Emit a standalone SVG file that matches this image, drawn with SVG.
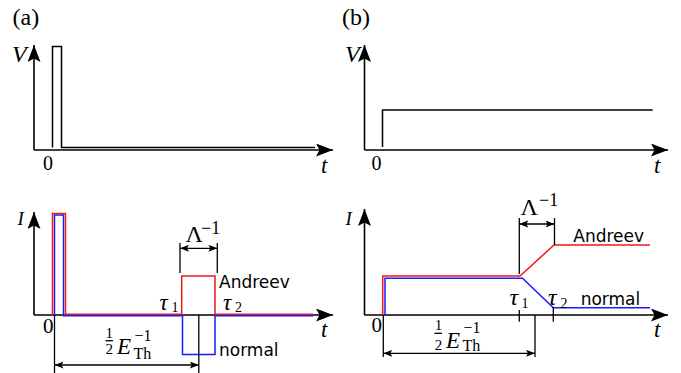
<svg xmlns="http://www.w3.org/2000/svg" width="681" height="373" viewBox="0 0 681 373">
<style>
.ax{fill:none;stroke:#000;stroke-width:1.6}
.tr{fill:none;stroke:#000;stroke-width:1.5}
.br{fill:none;stroke:#000;stroke-width:1.3}
.red{fill:none;stroke:#f01818;stroke-width:1.5;stroke-linejoin:miter}
.blue{fill:none;stroke:#1a1aff;stroke-width:1.5;stroke-linejoin:miter}
.serif{font-family:"Liberation Serif","Times New Roman",serif;fill:#000}
.it{font-style:italic}
.sans{font-family:"DejaVu Sans",sans-serif;font-size:17px;fill:#000}
</style>
<defs>
<marker id="ax" markerWidth="18" markerHeight="13" refX="17" refY="6.5" orient="auto" markerUnits="userSpaceOnUse"><path d="M0,0 L17,6.5 L0,13 L3.5,6.5 z" fill="#000"/></marker>
<marker id="da" markerWidth="10" markerHeight="8" refX="9" refY="3.5" orient="auto-start-reverse" markerUnits="userSpaceOnUse"><path d="M0,0 L9,3.5 L0,7 L2,3.5 z" fill="#000"/></marker>
</defs>

<g id="labels-panels">
<text class="serif" x="12.5" y="25" font-size="24">(a)</text>
<text class="serif" x="342" y="25" font-size="24">(b)</text>
</g>

<g id="panel-a-top">
<line class="ax" x1="34" y1="150" x2="34" y2="45" marker-end="url(#ax)"/>
<line class="ax" x1="34" y1="150" x2="333" y2="150" marker-end="url(#ax)"/>
<path class="tr" d="M52.5,147.5 V46.5 H61.5 V147.5 H315"/>
<text class="serif it" x="12" y="61.7" font-size="24">V</text>
<text class="serif" x="43" y="170" font-size="20">0</text>
<text class="serif it" x="321" y="173" font-size="23">t</text>
</g>

<g id="panel-a-bottom">
<line class="ax" x1="34" y1="315" x2="34" y2="212" marker-end="url(#ax)"/>
<line class="ax" x1="34" y1="315" x2="333" y2="315" marker-end="url(#ax)"/>
<path class="blue" d="M54.5,315.5 V215 H63.5 V315.7 H182.5 V354.5 H215 V315.7 H313"/>
<path class="red" d="M52.5,315 V213.5 H65.5 V314.3 H181.7 V276 H215 V314.3 H313"/>
<g id="a-lambda">
<line class="br" x1="180" y1="243" x2="180" y2="273"/>
<line class="br" x1="217.3" y1="243" x2="217.3" y2="273"/>
<line class="br" x1="180" y1="248.3" x2="217.3" y2="248.3" marker-start="url(#da)" marker-end="url(#da)"/>
<text class="serif" x="185.5" y="241.7" font-size="24">Λ</text>
<text class="serif" x="201" y="233.5" font-size="18">−1</text>
</g>
<g id="a-eth">
<line class="br" x1="54.5" y1="315" x2="54.5" y2="373"/>
<line class="br" x1="198.8" y1="315" x2="198.8" y2="373"/>
<line class="br" x1="54.5" y1="365" x2="198.8" y2="365" marker-start="url(#da)" marker-end="url(#da)"/>
<text class="serif" x="109.3" y="337.7" font-size="15" text-anchor="middle">1</text>
<line class="br" x1="105.5" y1="340.7" x2="113" y2="340.7" stroke-width="1"/>
<text class="serif" x="109.3" y="354.3" font-size="15" text-anchor="middle">2</text>
<text class="serif it" x="117" y="354.3" font-size="23">E</text>
<text class="serif" x="134.5" y="341" font-size="16">−1</text>
<text class="serif" x="133.5" y="359" font-size="16">Th</text>
</g>
<text class="sans" x="219" y="288.3">Andreev</text>
<text class="sans" x="219" y="355.7">normal</text>
<text class="serif it" x="159.5" y="310" font-size="23">τ</text>
<text class="serif" x="171.5" y="311.7" font-size="14">1</text>
<text class="serif it" x="223" y="310" font-size="23">τ</text>
<text class="serif" x="235" y="311.7" font-size="14">2</text>
<text class="serif it" x="17.5" y="225" font-size="19">I</text>
<text class="serif" x="43" y="333.3" font-size="21">0</text>
<text class="serif it" x="321" y="336.7" font-size="23">t</text>
</g>

<g id="panel-b-top">
<line class="ax" x1="364.5" y1="150" x2="364.5" y2="45" marker-end="url(#ax)"/>
<line class="ax" x1="364.5" y1="150" x2="668" y2="150" marker-end="url(#ax)"/>
<path class="tr" d="M382.5,147 V110 H652.7"/>
<text class="serif it" x="345" y="61.7" font-size="24">V</text>
<text class="serif" x="371.5" y="170" font-size="20">0</text>
<text class="serif it" x="654" y="173" font-size="23">t</text>
</g>

<g id="panel-b-bottom">
<line class="ax" x1="364.5" y1="315" x2="364.5" y2="209" marker-end="url(#ax)"/>
<line class="ax" x1="364.5" y1="315" x2="668" y2="315" marker-end="url(#ax)"/>
<path class="red" d="M382.7,315 V276 H520 L554,245 H650"/>
<path class="blue" d="M385,315 V278.3 H522.5 L553.3,307.7 H650"/>
<line class="br" x1="519.3" y1="310" x2="519.3" y2="321.7"/>
<line class="br" x1="553.3" y1="307" x2="553.3" y2="321.7"/>
<g id="b-lambda">
<line class="br" x1="519.3" y1="218" x2="519.3" y2="274"/>
<line class="br" x1="554.5" y1="218" x2="554.5" y2="245"/>
<line class="br" x1="519.3" y1="224" x2="554.5" y2="224" marker-start="url(#da)" marker-end="url(#da)"/>
<text class="serif" x="520.5" y="215" font-size="24">Λ</text>
<text class="serif" x="539" y="206" font-size="18">−1</text>
</g>
<g id="b-eth">
<line class="br" x1="383.3" y1="315" x2="383.3" y2="357"/>
<line class="br" x1="535" y1="315" x2="535" y2="357"/>
<line class="br" x1="383.3" y1="353.3" x2="535" y2="353.3" marker-start="url(#da)" marker-end="url(#da)"/>
<text class="serif" x="438.5" y="330" font-size="15" text-anchor="middle">1</text>
<line class="br" x1="434.5" y1="333.3" x2="442" y2="333.3" stroke-width="1"/>
<text class="serif" x="438.5" y="350" font-size="15" text-anchor="middle">2</text>
<text class="serif it" x="446" y="348.3" font-size="23">E</text>
<text class="serif" x="463.5" y="333" font-size="16">−1</text>
<text class="serif" x="462.5" y="351" font-size="16">Th</text>
</g>
<text class="sans" x="573.3" y="242.3">Andreev</text>
<text class="sans" x="580.7" y="305">normal</text>
<text class="serif it" x="509.5" y="305" font-size="24">τ</text>
<text class="serif" x="521.5" y="307.5" font-size="14">1</text>
<text class="serif it" x="548" y="305" font-size="24">τ</text>
<text class="serif" x="560.5" y="307.5" font-size="14">2</text>
<text class="serif it" x="345.5" y="225" font-size="19">I</text>
<text class="serif" x="371.5" y="331.7" font-size="21">0</text>
<text class="serif it" x="654" y="336.7" font-size="23">t</text>
</g>
</svg>
